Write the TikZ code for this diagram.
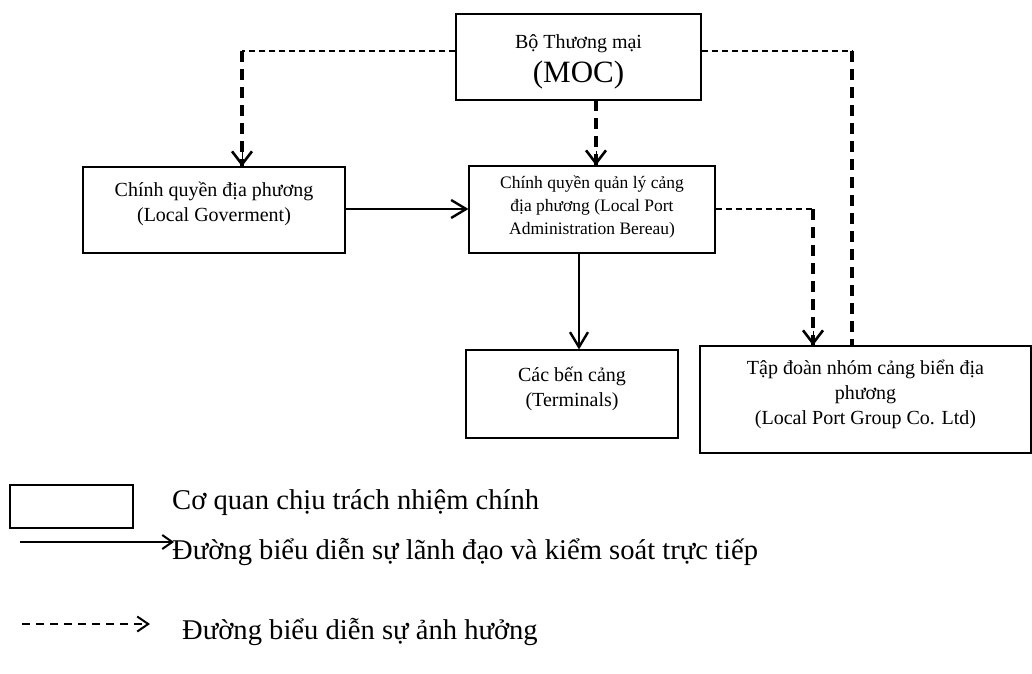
\documentclass[tikz,border=0pt]{standalone}
\usepackage{fontspec}
\setmainfont{Liberation Serif}
\usetikzlibrary{arrows.meta,calc}

\begin{document}
\begin{tikzpicture}[x=1pt,y=-1pt,
  box/.style={draw, line width=1.1pt, inner sep=0pt},
  txt/.style={inner sep=0pt, align=center, font=\fontsize{20}{25}\selectfont},
  smalltxt/.style={inner sep=0pt, align=center, font=\fontsize{17.5}{23}\selectfont},
  legtxt/.style={inner sep=0pt, anchor=base west, font=\fontsize{28.6}{34}\selectfont},
  thindash/.style={line width=1.2pt, dash pattern=on 6pt off 4pt},
  thickdash/.style={line width=3.2pt, dash pattern=on 11pt off 7pt},
  vtip/.style={-{Straight Barb[length=13pt,width=20pt,line width=2.6pt]}},
  ctrl/.style={line width=2.2pt, -{Straight Barb[length=15pt,width=18pt,line width=2.4pt]}}
]
% canvas
\useasboundingbox (0,0) rectangle (1032,673);

% organisations
\node[box, minimum width=245pt, minimum height=86pt] (moc) at (578.5,57) {};
\node[inner sep=0pt, anchor=base, font=\fontsize{20}{25}\selectfont] (moct1) at (578.5,48) {Bộ Thương mại};
\node[inner sep=0pt, anchor=base, font=\fontsize{31}{34}\selectfont] (moct2) at (578.5,82) {(MOC)};

\node[box, minimum width=262pt, minimum height=86pt] (lg) at (214,210) {};
\node[txt] (lgt) at (214,204) {Chính quyền địa phương\\(Local Goverment)};

\node[box, minimum width=246pt, minimum height=87pt] (lpa) at (592,209.5) {};
\node[smalltxt] (lpat) at (592,207) {Chính quyền quản lý cảng\\địa phương (Local Port\\Administration Bereau)};

\node[box, minimum width=212pt, minimum height=88pt] (term) at (572,394) {};
\node[txt] (termt) at (572,389) {Các bến cảng\\(Terminals)};

\node[box, minimum width=331pt, minimum height=107pt] (lpg) at (865.5,399.5) {};
\node[txt] (lpgt) at (865.5,394) {Tập đoàn nhóm cảng biển địa\\phương\\(Local Port Group Co. Ltd)};

% routing points
\coordinate (c1) at (242,51);
\coordinate (c2) at (852,51);
\coordinate (c3) at (813,209);
\coordinate (c4) at (596,100);
\coordinate (c5) at (579,253);

% influence: MOC -> local government
\draw[thindash] (moc.west |- c1) -- (c1);
\draw[thickdash] (c1) -- (lg.north -| c1);
\draw[vtip] ($(lg.north -| c1)+(0,-14)$) -- (lg.north -| c1);

% influence: MOC -> port administration
\draw[thickdash] (c4) -- (lpa.north -| c4);
\draw[vtip] ($(lpa.north -| c4)+(0,-14)$) -- (lpa.north -| c4);

% influence: MOC -> port group
\draw[thindash] (moc.east |- c2) -- (c2);
\draw[thickdash] (c2) -- (lpg.north -| c2);

% influence: port administration -> port group
\draw[thindash] (lpa.east |- c3) -- (c3);
\draw[thickdash] (c3) -- (lpg.north -| c3);
\draw[vtip] ($(lpg.north -| c3)+(0,-14)$) -- (lpg.north -| c3);

% direct control
\draw[ctrl] (lg.east |- c3) -- (lpa.west |- c3);
\draw[ctrl] (c5) -- (term.north -| c5);

% legend
\node[box, minimum width=123pt, minimum height=43pt] (legbox) at (71.5,506.5) {};
\node[legtxt] (leg1) at (172,509) {Cơ quan chịu trách nhiệm chính};

\coordinate (l2a) at (20,542);
\coordinate (l2b) at (174,542);
\draw[line width=2pt, -{Straight Barb[length=10pt,width=14pt,line width=2pt]}] (l2a) -- (l2b);
\node[legtxt] (leg2) at (172,559) {Đường biểu diễn sự lãnh đạo và kiểm soát trực tiếp};

\coordinate (l3a) at (22,624);
\coordinate (l3b) at (150,624);
\draw[line width=2pt, dash pattern=on 8pt off 6pt, -{Straight Barb[length=11pt,width=15pt,line width=2pt]}] (l3a) -- (l3b);
\node[legtxt] (leg3) at (182,639) {Đường biểu diễn sự ảnh hưởng};
\end{tikzpicture}
\end{document}
